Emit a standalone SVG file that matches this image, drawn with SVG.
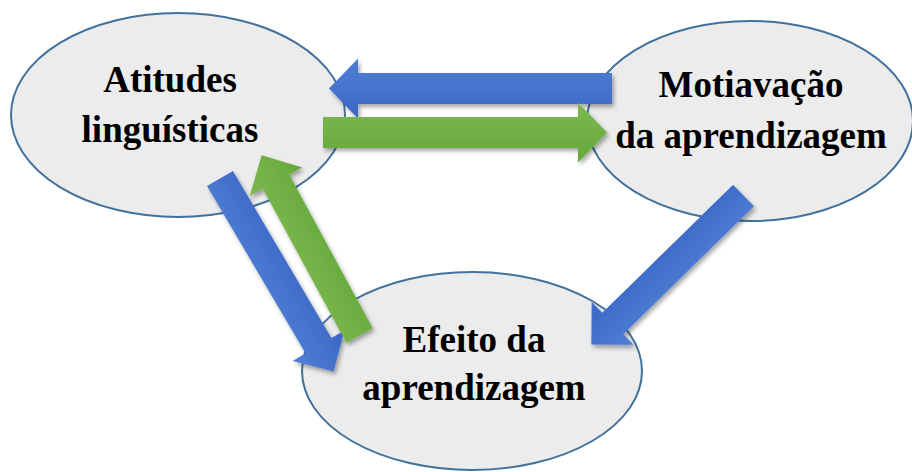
<svg xmlns="http://www.w3.org/2000/svg" width="912" height="472" viewBox="0 0 912 472">
<style>
.node{fill:#ececec;stroke:#41719c;stroke-width:2}
.lbl{font-family:"Liberation Serif","Times New Roman",serif;font-weight:bold;font-size:37px;fill:#000;text-anchor:middle}
</style>
<defs>
<linearGradient id="bl" x1="0" y1="0" x2="0" y2="1"><stop offset="0" stop-color="#5080d6"/><stop offset="1" stop-color="#3a66c4"/></linearGradient>
<linearGradient id="blr" x1="0" y1="1" x2="0" y2="0"><stop offset="0" stop-color="#5080d6"/><stop offset="1" stop-color="#3a66c4"/></linearGradient>
<linearGradient id="gr" x1="0" y1="0" x2="0" y2="1"><stop offset="0" stop-color="#7cb94e"/><stop offset="1" stop-color="#65a83b"/></linearGradient>
<linearGradient id="grr" x1="0" y1="1" x2="0" y2="0"><stop offset="0" stop-color="#7cb94e"/><stop offset="1" stop-color="#65a83b"/></linearGradient>
<filter id="sh" x="-20%" y="-20%" width="140%" height="140%"><feDropShadow dx="2" dy="3" stdDeviation="2" flood-color="#000" flood-opacity="0.35"/></filter>
</defs>
<rect width="912" height="472" fill="#fff"/>
<g id="node-atitudes">
<ellipse class="node" cx="178" cy="115" rx="167" ry="102"/>
<text class="lbl" x="170" y="92">Atitudes</text>
<text class="lbl" x="170" y="142">linguísticas</text>
</g>
<g id="node-motivacao">
<ellipse class="node" cx="750" cy="121" rx="163" ry="100"/>
<text class="lbl" x="751" y="97">Motiavação</text>
<text class="lbl" x="751" y="148">da aprendizagem</text>
</g>
<g id="node-efeito">
<ellipse class="node" cx="472" cy="371" rx="170" ry="99"/>
<text class="lbl" x="474" y="352">Efeito da</text>
<text class="lbl" x="474" y="400">aprendizagem</text>
</g>
<g id="connectors" filter="url(#sh)">
<polygon fill="url(#blr)" transform="translate(612,88.5) rotate(180)" points="0,-15.5 254,-15.5 254,-30 283,0 254,30 254,15.5 0,15.5"/>
<polygon fill="url(#gr)" transform="translate(323,132.5)" points="0,-15.5 255,-15.5 255,-30 284,0 255,30 255,15.5 0,15.5"/>
<polygon fill="url(#blr)" transform="translate(220,178.5) rotate(59.5)" points="0,-15 194,-15 194,-30 224,0 194,30 194,15 0,15"/>
<polygon fill="url(#gr)" transform="translate(359.5,335.5) rotate(-118.5)" points="0,-15 175,-15 175,-30 205,0 175,30 175,15 0,15"/>
<polygon fill="url(#bl)" transform="translate(743.5,195.5) rotate(135.6)" points="0,-15 183,-15 183,-30 213,0 183,30 183,15 0,15"/>
</g>
</svg>
